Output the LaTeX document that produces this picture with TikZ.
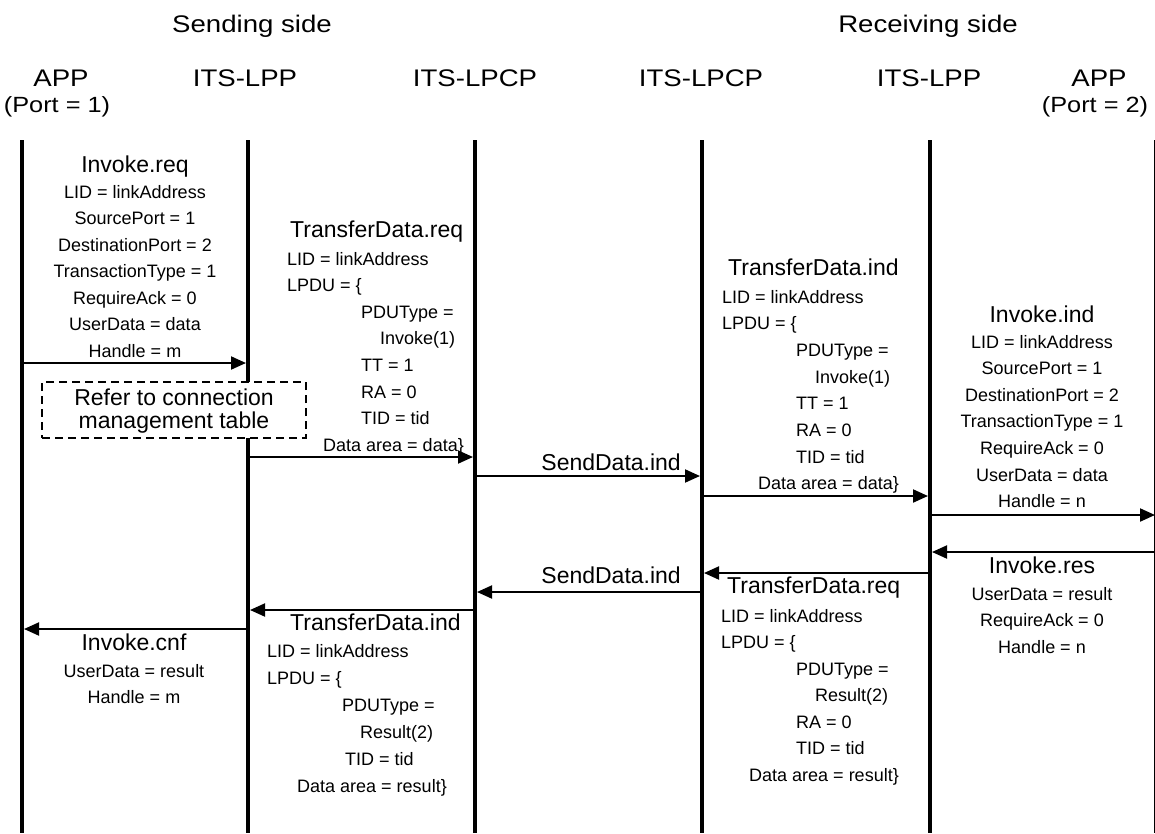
\documentclass[tikz,border=0pt]{standalone}
\usepackage{fontspec}
\setmainfont{Liberation Sans}
\newfontfamily\hdfont{Liberation Sans}[FakeStretch=1.15]
\usetikzlibrary{arrows.meta}
\begin{document}
\begin{tikzpicture}[x=1pt,y=-1pt,
  lifeline/.style={line width=4pt},
  msg/.style={line width=2pt,-{Triangle[length=15pt,width=13pt]}},
  sm/.style={font=\fontsize{18}{20}\selectfont,inner sep=0pt},
  bg/.style={font=\fontsize{23}{26}\selectfont,inner sep=0pt},
  hdr/.style={font=\hdfont\fontsize{24}{28}\selectfont,inner sep=0pt},
  prt/.style={font=\hdfont\fontsize{22}{26}\selectfont,inner sep=0pt},
  note/.style={draw,dashed,dash pattern=on 8pt off 5pt,line width=1.5pt,fill=white}]
\useasboundingbox (0,0) rectangle (1155,833);
\fill[white] (0,0) rectangle (1155,833);

% headers
\node[hdr,anchor=base] (hs) at (252,32) {Sending side};
\node[hdr,anchor=base] (hr) at (928,32) {Receiving side};
\node[hdr,anchor=base] (h1) at (61,86) {APP};
\node[hdr,anchor=base] (h2) at (245,86) {ITS-LPP};
\node[hdr,anchor=base] (h3) at (475,86) {ITS-LPCP};
\node[hdr,anchor=base] (h4) at (701,86) {ITS-LPCP};
\node[hdr,anchor=base] (h5) at (929,86) {ITS-LPP};
\node[hdr,anchor=base] (h6) at (1099,86) {APP};
\node[prt,anchor=base] (p1) at (57,112) {(Port = 1)};
\node[prt,anchor=base] (p6) at (1095,112) {(Port = 2)};

% lifelines
\foreach \n/\x in {1/22,2/248,3/475,4/702,5/930,6/1156}{
  \coordinate (t\n) at (\x,140);
  \coordinate (b\n) at (\x,833);
  \draw[lifeline] (t\n) -- (b\n);
}

% Invoke.req
\node[bg,anchor=base] (ireq) at (135,172) {Invoke.req};
\node[sm,anchor=base] (ireq1) at (135,198) {LID = linkAddress};
\node[sm,anchor=base] (ireq2) at (135,224.5) {SourcePort = 1};
\node[sm,anchor=base] (ireq3) at (135,251) {DestinationPort = 2};
\node[sm,anchor=base] (ireq4) at (135,277.5) {TransactionType = 1};
\node[sm,anchor=base] (ireq5) at (135,304) {RequireAck = 0};
\node[sm,anchor=base] (ireq6) at (135,330.5) {UserData = data};
\node[sm,anchor=base] (ireq7) at (135,357) {Handle = m};
\coordinate (a1s) at (22,363); \coordinate (a1e) at (246,363);
\draw[msg] (a1s) -- (a1e);

% note
\node[note,minimum width=264pt,minimum height=56pt,inner sep=0pt] (nt) at (174,410) {};
\node[bg,anchor=base] (nt1) at (174,405) {Refer to connection};
\node[bg,anchor=base] (nt2) at (174,428) {management table};

% TransferData.req (sending)
\node[bg,anchor=base west] (tsr) at (290,237) {TransferData.req};
\node[sm,anchor=base west] (tsr1) at (287,265) {LID = linkAddress};
\node[sm,anchor=base west] (tsr2) at (287,291.6) {LPDU = \{};
\node[sm,anchor=base west] (tsr3) at (361,318.2) {PDUType =};
\node[sm,anchor=base west] (tsr4) at (380,344.8) {Invoke(1)};
\node[sm,anchor=base west] (tsr5) at (361,371.4) {TT = 1};
\node[sm,anchor=base west] (tsr6) at (361,398) {RA = 0};
\node[sm,anchor=base west] (tsr7) at (361,424.6) {TID = tid};
\node[sm,anchor=base west] (tsr8) at (323,451.2) {Data area = data\}};
\coordinate (a2s) at (248,457); \coordinate (a2e) at (473,457);
\draw[msg] (a2s) -- (a2e);

% SendData.ind 1
\node[bg,anchor=base east] (sd1) at (681,470) {SendData.ind};
\coordinate (a3s) at (475,476); \coordinate (a3e) at (700,476);
\draw[msg] (a3s) -- (a3e);

% TransferData.ind (receiving)
\node[bg,anchor=base west] (tri) at (728,275) {TransferData.ind};
\node[sm,anchor=base west] (tri1) at (722,303) {LID = linkAddress};
\node[sm,anchor=base west] (tri2) at (722,329.7) {LPDU = \{};
\node[sm,anchor=base west] (tri3) at (796,356.4) {PDUType =};
\node[sm,anchor=base west] (tri4) at (815,383.1) {Invoke(1)};
\node[sm,anchor=base west] (tri5) at (796,409.8) {TT = 1};
\node[sm,anchor=base west] (tri6) at (796,436.5) {RA = 0};
\node[sm,anchor=base west] (tri7) at (796,463.2) {TID = tid};
\node[sm,anchor=base west] (tri8) at (758,489.9) {Data area = data\}};
\coordinate (a4s) at (702,496); \coordinate (a4e) at (928,496);
\draw[msg] (a4s) -- (a4e);

% Invoke.ind
\node[bg,anchor=base] (iind) at (1042,322) {Invoke.ind};
\node[sm,anchor=base] (iind1) at (1042,348) {LID = linkAddress};
\node[sm,anchor=base] (iind2) at (1042,374.6) {SourcePort = 1};
\node[sm,anchor=base] (iind3) at (1042,401.2) {DestinationPort = 2};
\node[sm,anchor=base] (iind4) at (1042,427.8) {TransactionType = 1};
\node[sm,anchor=base] (iind5) at (1042,454.4) {RequireAck = 0};
\node[sm,anchor=base] (iind6) at (1042,481) {UserData = data};
\node[sm,anchor=base] (iind7) at (1042,507.6) {Handle = n};
\coordinate (a5s) at (930,515); \coordinate (a5e) at (1155,515);
\draw[msg] (a5s) -- (a5e);

% Invoke.res
\coordinate (a6s) at (1155,552); \coordinate (a6e) at (932,552);
\draw[msg] (a6s) -- (a6e);
\node[bg,anchor=base] (ires) at (1042,573) {Invoke.res};
\node[sm,anchor=base] (ires1) at (1042,600) {UserData = result};
\node[sm,anchor=base] (ires2) at (1042,626.5) {RequireAck = 0};
\node[sm,anchor=base] (ires3) at (1042,653) {Handle = n};

% TransferData.req (receiving)
\coordinate (a7s) at (930,573); \coordinate (a7e) at (704,573);
\draw[msg] (a7s) -- (a7e);
\node[bg,anchor=base west] (trr) at (727,593) {TransferData.req};
\node[sm,anchor=base west] (trr1) at (721,622) {LID = linkAddress};
\node[sm,anchor=base west] (trr2) at (721,648.5) {LPDU = \{};
\node[sm,anchor=base west] (trr3) at (796,675) {PDUType =};
\node[sm,anchor=base west] (trr4) at (815,701.5) {Result(2)};
\node[sm,anchor=base west] (trr5) at (796,728) {RA = 0};
\node[sm,anchor=base west] (trr6) at (796,754.5) {TID = tid};
\node[sm,anchor=base west] (trr7) at (749,781) {Data area = result\}};

% SendData.ind 2
\node[bg,anchor=base east] (sd2) at (681,583) {SendData.ind};
\coordinate (a8s) at (702,592); \coordinate (a8e) at (477,592);
\draw[msg] (a8s) -- (a8e);

% TransferData.ind (sending)
\coordinate (a9s) at (475,610); \coordinate (a9e) at (250,610);
\draw[msg] (a9s) -- (a9e);
\node[bg,anchor=base west] (tsi) at (290,630) {TransferData.ind};
\node[sm,anchor=base west] (tsi1) at (267,657) {LID = linkAddress};
\node[sm,anchor=base west] (tsi2) at (267,684) {LPDU = \{};
\node[sm,anchor=base west] (tsi3) at (342,711) {PDUType =};
\node[sm,anchor=base west] (tsi4) at (360,738) {Result(2)};
\node[sm,anchor=base west] (tsi5) at (345,765) {TID = tid};
\node[sm,anchor=base west] (tsi6) at (297,792) {Data area = result\}};

% Invoke.cnf
\coordinate (a10s) at (248,629); \coordinate (a10e) at (24,629);
\draw[msg] (a10s) -- (a10e);
\node[bg,anchor=base] (icnf) at (134,650) {Invoke.cnf};
\node[sm,anchor=base] (icnf1) at (134,677) {UserData = result};
\node[sm,anchor=base] (icnf2) at (134,703) {Handle = m};
\end{tikzpicture}
\end{document}
